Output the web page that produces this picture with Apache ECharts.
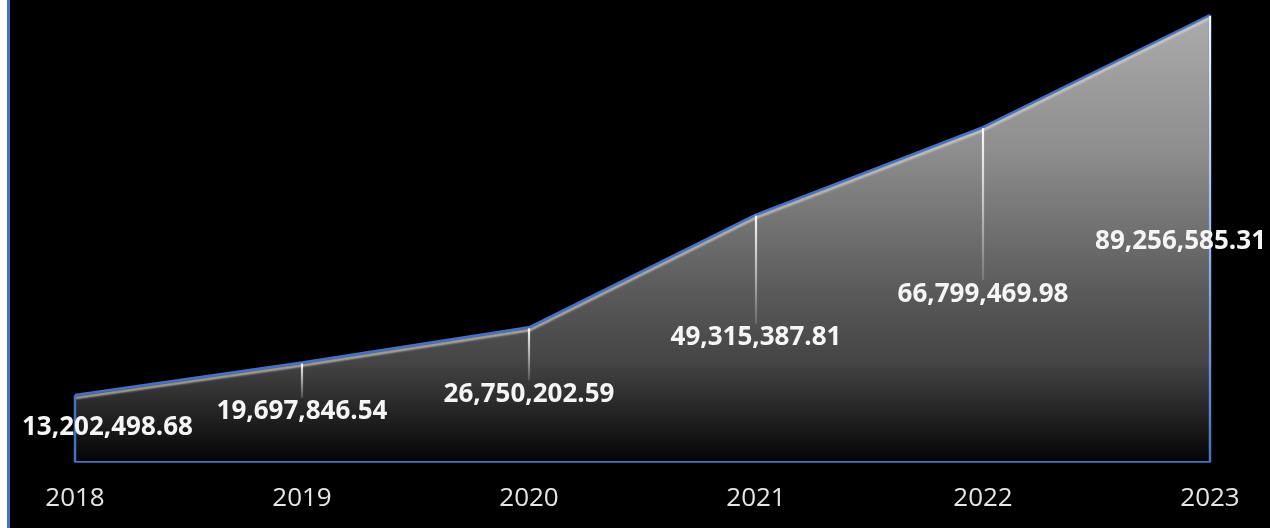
<!DOCTYPE html>
<html>
<head>
<meta charset="utf-8">
<script src="https://cdn.jsdelivr.net/npm/echarts@6/dist/echarts.min.js"></script>
<style>
  html, body { margin: 0; padding: 0; background: #fff; }
  #chart {
    position: absolute; left: 7px; top: 0;
    width: 1260px; height: 528px;
    border-left: 3px solid #4472c4;
    background: #000;
  }
</style>
</head>
<body>
<div id="chart"></div>
<script>
const years = ["2018", "2019", "2020", "2021", "2022", "2023"];
const revenue = [13202498.68, 19697846.54, 26750202.59, 49315387.81, 66799469.98, 89256585.31];

const blue = "#4472c4";
const labelFont = "bold 26px 'Open Sans'";

const fmt = (v) => v.toLocaleString("en-US", { minimumFractionDigits: 2, maximumFractionDigits: 2 });

const measure = (() => {
  const ctx = document.createElement("canvas").getContext("2d");
  return (text) => { ctx.font = labelFont; return ctx.measureText(text).width; };
})();

const chart = echarts.init(document.getElementById("chart"), null, { renderer: "canvas" });

// drop lines + centered value labels, edge lines for the first/last point
function renderDrop(params, api) {
  const i = api.value(0);
  const v = api.value(1);
  const top = api.coord([i, v]);
  const base = api.coord([i, 0]);
  const mid = api.coord([i, v / 2]);
  const text = fmt(v);
  const w = measure(text);
  const W = api.getWidth();
  const x = Math.min(Math.max(mid[0], 12 + w / 2), W - 4 - w / 2);
  const children = [];
  const last = i === revenue.length - 1;
  if (i === 0 || last) {
    children.push({
      type: "line",
      shape: { x1: top[0], y1: top[1], x2: base[0], y2: base[1] },
      style: { stroke: blue, lineWidth: 2.5 }
    });
  }
  const endY = last ? base[1] - 2 : mid[1] - 14;
  if (i !== 0) {
    children.push({
      type: "line",
      shape: { x1: top[0], y1: top[1] + 1, x2: top[0], y2: endY },
      style: {
        stroke: new echarts.graphic.LinearGradient(top[0], top[1], top[0], endY, [
          { offset: 0, color: "rgba(255,255,255,0.95)" },
          { offset: 1, color: last ? "rgba(255,255,255,0)" : "rgba(255,255,255,0.15)" }
        ], true),
        lineWidth: 2.2
      }
    });
  }
  children.push({
    type: "text",
    style: {
      text: text, x: x, y: mid[1] + (last ? 4 : 0),
      align: "center", verticalAlign: "middle",
      font: labelFont, fill: "#f5f5f5"
    }
  });
  return { type: "group", children: children };
}

chart.setOption({
  backgroundColor: "#000",
  animation: false,
  grid: { left: 65, right: 60, top: 15, bottom: 67 },
  xAxis: {
    type: "category",
    data: years,
    boundaryGap: false,
    axisTick: { show: false },
    axisLine: { show: true, lineStyle: { color: blue, width: 2.5 } },
    axisLabel: { color: "#e6e6e6", fontFamily: "Open Sans", fontSize: 26, margin: 25 }
  },
  yAxis: {
    type: "value",
    min: 0,
    max: "dataMax",
    show: false,
    splitLine: { show: false }
  },
  series: [
    {
      type: "line",
      data: revenue,
      symbol: "none",
      lineStyle: {
        color: blue, width: 2.5,
        shadowColor: "rgba(215,215,215,0.75)", shadowBlur: 2, shadowOffsetY: 3
      },
      areaStyle: {
        opacity: 1,
        color: new echarts.graphic.LinearGradient(0, 0, 0, 1, [
          { offset: 0, color: "#ababab" },
          { offset: 0.3, color: "#8e8e8e" },
          { offset: 0.62, color: "#5a5a5a" },
          { offset: 0.78, color: "#444444" },
          { offset: 1, color: "#050505" }
        ])
      },
      z: 2
    },
    {
      type: "custom",
      data: revenue.map((v, i) => [i, v]),
      renderItem: renderDrop,
      z: 5
    }
  ]
});
</script>
</body>
</html>
